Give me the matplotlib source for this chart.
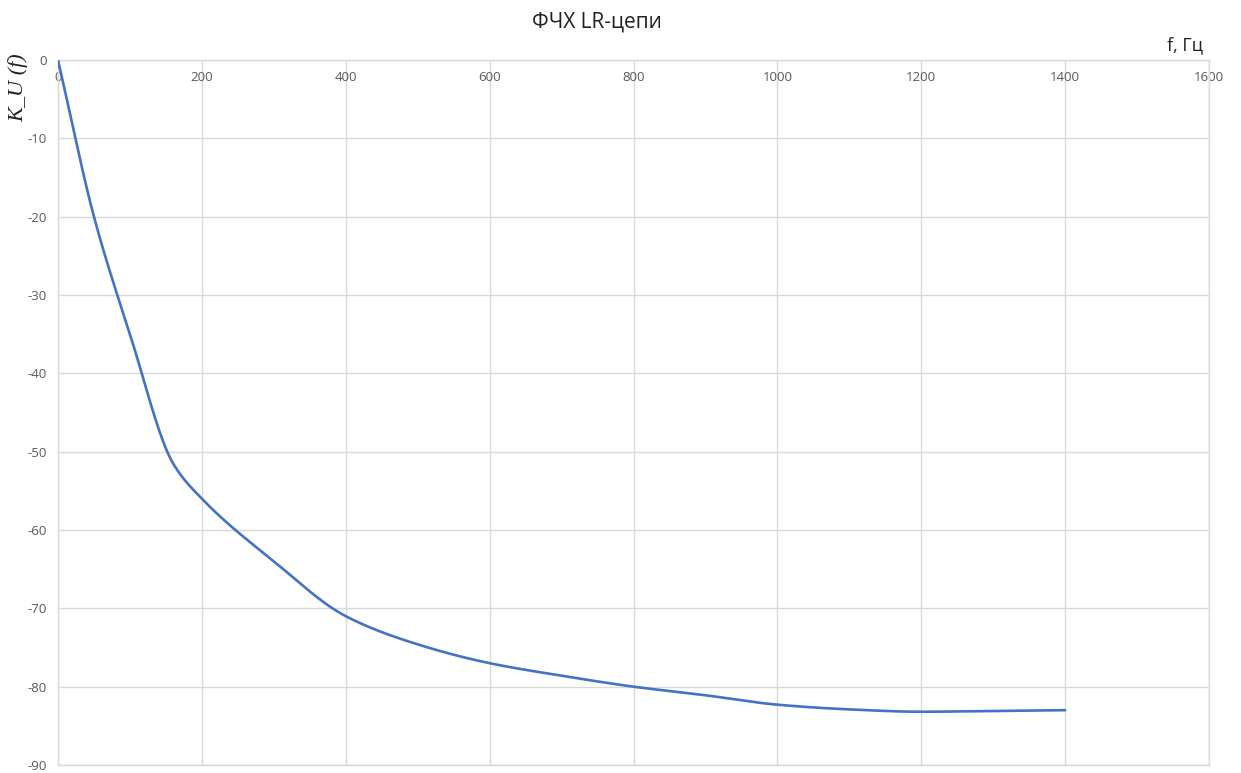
import matplotlib
matplotlib.use("Agg")
import matplotlib.pyplot as plt
import numpy as np

freq = [0, 50, 100, 160, 200, 300, 400, 500, 600, 700, 800, 900, 1000, 1100, 1200, 1300, 1400]
phase = [0, -20, -35, -51.5, -56, -64, -71, -74.6, -77, -78.6, -80, -81.1, -82.3, -82.9, -83.2, -83.1, -83.0]
x_ticks = [0, 200, 400, 600, 800, 1000, 1200, 1400, 1600]
y_ticks = [0, -10, -20, -30, -40, -50, -60, -70, -80, -90]
title = "ФЧХ LR-цепи"
x_label = "f, Гц"
y_label = "K_U (f)"

plt.rcParams["axes.unicode_minus"] = False


def pchip(xs, ys, n=40):
    x = np.asarray(xs, float)
    y = np.asarray(ys, float)
    h = np.diff(x)
    d = np.diff(y) / h
    m = np.zeros_like(y)
    for k in range(1, len(x) - 1):
        if d[k - 1] * d[k] <= 0:
            m[k] = 0.0
        else:
            w1 = 2 * h[k] + h[k - 1]
            w2 = h[k] + 2 * h[k - 1]
            m[k] = (w1 + w2) / (w1 / d[k - 1] + w2 / d[k])
    m[0] = d[0]
    m[-1] = d[-1]
    X, Y = [], []
    for k in range(len(x) - 1):
        t = np.linspace(0, 1, n)
        if k > 0:
            t = t[1:]
        h00 = 2 * t**3 - 3 * t**2 + 1
        h10 = t**3 - 2 * t**2 + t
        h01 = -2 * t**3 + 3 * t**2
        h11 = t**3 - t**2
        X.append(x[k] + t * h[k])
        Y.append(h00 * y[k] + h10 * h[k] * m[k] + h01 * y[k + 1] + h11 * h[k] * m[k + 1])
    return np.concatenate(X), np.concatenate(Y)


fig = plt.figure(figsize=(12.41, 7.73), dpi=100)
ax = fig.add_axes([58 / 1241, 1 - 765 / 773, (1209 - 58) / 1241, (765 - 60) / 773])

sx, sy = pchip(freq, phase)
ax.plot(sx, sy, color="#4472C4", lw=1.9, solid_capstyle="round", zorder=3)

ax.set_xlim(0, 1600)
ax.set_ylim(-90, 0)
ax.set_xticks(x_ticks)
ax.set_yticks(y_ticks)
ax.grid(True, color="#D9D9D9", lw=1.0)
ax.set_axisbelow(True)
for s in ax.spines.values():
    s.set_color("#D9D9D9")
    s.set_linewidth(1.0)

ax.tick_params(axis="x", top=False, bottom=False, labelbottom=False, labeltop=True,
               length=0, pad=-17, labelsize=9.5, labelcolor="#595959")
ax.tick_params(axis="y", length=0, pad=8, labelsize=9.5, labelcolor="#595959")
for lbl in ax.get_yticklabels():
    lbl.set_fontfamily("Open Sans")
for lbl in ax.get_xticklabels():
    lbl.set_fontfamily("Open Sans")

fig.text(597 / 1241, 1 - 22 / 773, title, ha="center", va="center",
         fontsize=15, family="Open Sans", color="#222222")
fig.text(1185 / 1241, 1 - 45 / 773, x_label, ha="center", va="center",
         fontsize=13, family="Open Sans", color="#222222")
fig.text(18 / 1241, 1 - 88 / 773, y_label, ha="center", va="center", rotation=90,
         fontsize=16, family="Liberation Serif", style="italic", color="#222222")

fig.savefig("out.png", dpi=100, facecolor="white")
